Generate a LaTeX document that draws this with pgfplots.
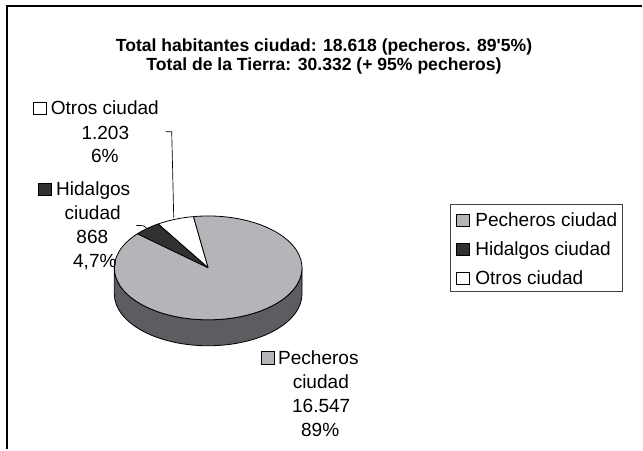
\documentclass[border=0pt]{standalone}
\usepackage{fontspec}
\setmainfont{Liberation Sans}
\usepackage{pgfplots}
\pgfplotsset{compat=1.18}
\definecolor{pech}{RGB}{180,181,185}
\definecolor{pechside}{RGB}{92,93,97}
\definecolor{hidal}{RGB}{47,49,51}
\begin{document}
\begin{tikzpicture}
% data
\def\vPech{16547}\def\vHid{868}\def\vOtr{1203}
\edef\aA{99}
\edef\aB{\fpeval{99+360*\vOtr/(\vPech+\vHid+\vOtr)}}
\edef\aC{\fpeval{\aB+360*\vHid/(\vPech+\vHid+\vOtr)}}
\edef\aD{\fpeval{99+360}}
\begin{axis}[
  x=0.75pt, y=0.75pt,
  xmin=0, xmax=643, ymin=0, ymax=450,
  hide axis, clip=false,
  legend cell align=left,
  legend style={at={(axis cs:451,246)}, anchor=north west,
    draw=black!75, line width=0.6pt, fill=white,
    font=\fontsize{14.3}{17}\selectfont,
    inner xsep=4.3pt, inner ysep=0pt, row sep=0pt,
    cells={anchor=base west},
    nodes={inner sep=0pt, text height=17pt, text depth=4.75pt},
    /tikz/every odd column/.append style={column sep=4.2pt},
    /tikz/every even column/.append style={column sep=1.5pt}},
  legend image code/.code={\filldraw[#1] (0pt,0pt) rectangle (9.5pt,9.5pt);},
]
\path (axis cs:0,0) rectangle (axis cs:643,450);
% frame
\draw[line width=1.5pt, line join=miter] (axis cs:7.5,0) -- (axis cs:7.5,443.5) -- (axis cs:643,443.5);
% title
\node[anchor=base, inner sep=0pt, font=\bfseries\fontsize{13.2}{16}\selectfont] at (axis cs:324.5,398.8) {Total habitantes ciudad: 18.618 (pecheros. 89\textquotesingle5\%)};
\node[anchor=base, inner sep=0pt, font=\bfseries\fontsize{13.2}{16}\selectfont] at (axis cs:324.5,379.5) {Total de la Tierra: 30.332 (+ 95\% pecheros)};
% pie side
\filldraw[fill=pechside, draw=black, line width=0.6pt] (axis cs:114.5,181.7) arc[start angle=180, end angle=360, x radius=70.5pt, y radius=39pt] -- ++(0pt,-19.5pt) arc[start angle=360, end angle=180, x radius=70.5pt, y radius=39pt] -- cycle;
% pie top
\filldraw[fill=white, draw=black, line width=0.6pt, line join=round] (axis cs:208.5,181.7) -- ++(\aA:70.5pt and 39pt) arc[start angle=\aA, end angle=\aB, x radius=70.5pt, y radius=39pt] -- cycle;
\filldraw[fill=hidal, draw=black, line width=0.6pt, line join=round] (axis cs:208.5,181.7) -- ++(\aB:70.5pt and 39pt) arc[start angle=\aB, end angle=\aC, x radius=70.5pt, y radius=39pt] -- cycle;
\filldraw[fill=pech, draw=black, line width=0.6pt, line join=round] (axis cs:208.5,181.7) -- ++(\aC:70.5pt and 39pt) arc[start angle=\aC, end angle=\aD, x radius=70.5pt, y radius=39pt] -- cycle;
% leader lines
\draw[line width=0.5pt] (axis cs:166,318) -- (axis cs:172,318) -- (axis cs:174,232);
\draw[line width=0.5pt] (axis cs:136,224.3) -- (axis cs:143.3,224) -- (axis cs:147,221.4);
% data labels
\begin{scope}[every node/.style={inner sep=0pt, font=\fontsize{14.3}{17}\selectfont}]
\filldraw[fill=white, draw=black, line width=0.5pt] (axis cs:33.5,335.5) rectangle (axis cs:46.5,348);
\node[anchor=base west] at (axis cs:50.7,335) {Otros ciudad};
\node[anchor=base] at (axis cs:105.5,310.7) {1.203};
\node[anchor=base] at (axis cs:105,287.3) {6\%};
\filldraw[fill=hidal, draw=black, line width=0.5pt] (axis cs:38.5,254) rectangle (axis cs:51.5,266.5);
\node[anchor=base west] at (axis cs:56,254) {Hidalgos};
\node[anchor=base] at (axis cs:92.8,230) {ciudad};
\node[anchor=base] at (axis cs:92.5,206) {868};
\node[anchor=base] at (axis cs:95,181.7) {4,7\%};
\filldraw[fill=pech, draw=black, line width=0.5pt] (axis cs:262,85.5) rectangle (axis cs:275,98);
\node[anchor=base west] at (axis cs:278.3,85) {Pecheros};
\node[anchor=base] at (axis cs:321.3,60.7) {ciudad};
\node[anchor=base] at (axis cs:321.7,36.7) {16.547};
\node[anchor=base] at (axis cs:320.7,13) {89\%};
\end{scope}
% legend
\addlegendimage{fill=pech, draw=black, line width=0.5pt}
\addlegendentry{Pecheros ciudad}
\addlegendimage{fill=hidal, draw=black, line width=0.5pt}
\addlegendentry{Hidalgos ciudad}
\addlegendimage{fill=white, draw=black, line width=0.5pt}
\addlegendentry{Otros ciudad}
\end{axis}
\end{tikzpicture}
\end{document}
